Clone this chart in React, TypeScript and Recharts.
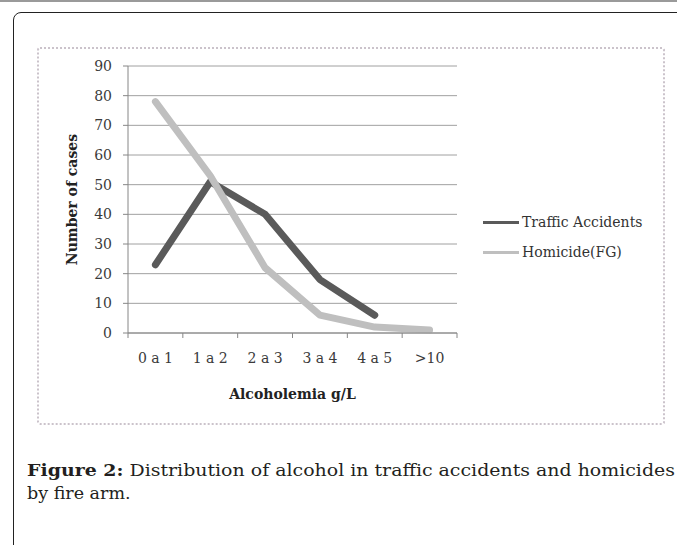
import { LineChart, Line, XAxis, YAxis, CartesianGrid, Legend } from 'recharts';

const categories = ['0 a 1', '1 a 2', '2 a 3', '3 a 4', '4 a 5', '>10'];
const trafficAccidents = [23, 51, 40, 18, 6, null];
const homicideFG = [78, 53, 22, 6, 2, 1];
const yTicks = [0, 10, 20, 30, 40, 50, 60, 70, 80, 90];
const seriesNames = ['Traffic Accidents', 'Homicide(FG)'];

const data = categories.map((c, i) => ({
  range: c,
  traffic: trafficAccidents[i],
  homicide: homicideFG[i],
}));

const SERIF = '"DejaVu Serif", serif';
const AXIS = '#868686';
const TICK_SIZE = 5;
const X_TICK_MARGIN = 15;

// Excel style: labels in the middle of each band, tick marks on the band edges
function CategoryTick(props: any) {
  const { x, y, payload, index, visibleTicksCount, width } = props;
  const half = width / visibleTicksCount / 2;
  const axisY = y - TICK_SIZE - X_TICK_MARGIN;
  return (
    <g>
      <line x1={x - half} x2={x - half} y1={axisY} y2={axisY + TICK_SIZE} stroke={AXIS} />
      {index === visibleTicksCount - 1 && (
        <line x1={x + half} x2={x + half} y1={axisY} y2={axisY + TICK_SIZE} stroke={AXIS} />
      )}
      <text x={x} y={y} dy="0.71em" textAnchor="middle" fontFamily={SERIF} fontSize={14} fill="#3a3a3a">
        {payload.value}
      </text>
    </g>
  );
}

function LegendBox(props: any) {
  const items = [...(props.payload || [])].sort(
    (a: any, b: any) => seriesNames.indexOf(a.value) - seriesNames.indexOf(b.value)
  );
  return (
    <div>
      {items.map((e: any) => (
        <div key={e.value} style={{ display: 'flex', alignItems: 'center', height: 30 }}>
          <span style={{ width: 36, height: 3, background: e.color, marginRight: 3 }} />
          <span style={{ fontFamily: SERIF, fontSize: 14, color: '#333' }}>{e.value}</span>
        </div>
      ))}
    </div>
  );
}

export default function App() {
  return (
    <div style={{ position: 'absolute', left: 0, top: 0, width: 677, height: 545, overflow: 'hidden', background: '#fff' }}>
      <div style={{ position: 'absolute', left: 0, top: 0, width: 677, height: 2, background: '#9a9a9a' }} />
      <div style={{ position: 'absolute', left: 13, top: 12, width: 720, height: 600, border: '1.5px solid #222', borderRadius: 8 }} />
      <div style={{ position: 'absolute', left: 37, top: 47, width: 624, height: 374, border: '2px dotted #cbc3cb', borderRadius: 3 }} />

      <div style={{ position: 'absolute', left: 0, top: 0 }}>
        <LineChart width={677} height={545} data={data} margin={{ top: 66, right: 220, bottom: 182, left: 68 }}>
          <CartesianGrid vertical={false} stroke="#a0a0a0" />
          <XAxis
            dataKey="range"
            scale="band"
            height={30}
            tickLine={false}
            tickSize={TICK_SIZE}
            tickMargin={X_TICK_MARGIN}
            axisLine={{ stroke: AXIS }}
            tick={<CategoryTick />}
            interval={0}
            label={{ value: 'Alcoholemia g/L', position: 'bottom', offset: 26, fontFamily: SERIF, fontSize: 14, fontWeight: 'bold', fill: '#222' }}
          />
          <YAxis
            width={60}
            domain={[0, 90]}
            ticks={yTicks}
            tickSize={TICK_SIZE}
            tickMargin={11}
            axisLine={{ stroke: AXIS }}
            tickLine={{ stroke: AXIS }}
            tick={{ fontFamily: SERIF, fontSize: 14, fill: '#3a3a3a' }}
            label={{ value: 'Number of cases', angle: -90, position: 'insideLeft', offset: 4, fontFamily: SERIF, fontSize: 14, fontWeight: 'bold', fill: '#222', style: { textAnchor: 'middle' } }}
          />
          <Legend
            layout="vertical"
            align="center"
            verticalAlign="middle"
            wrapperStyle={{ left: 483, top: 207, width: 190 }}
            content={<LegendBox />}
          />
          <Line name="Traffic Accidents" dataKey="traffic" stroke="#5a5a5a" strokeWidth={7} strokeLinecap="round" strokeLinejoin="round" dot={false} isAnimationActive={false} />
          <Line name="Homicide(FG)" dataKey="homicide" stroke="#bfbfbf" strokeWidth={7} strokeLinecap="round" strokeLinejoin="round" dot={false} isAnimationActive={false} />
        </LineChart>
      </div>

      <svg style={{ position: 'absolute', left: 0, top: 0 }} width={677} height={545}>
        <text x={27} y={476} fontFamily={SERIF} fontSize={17.5} fill="#231f20" textLength={648} lengthAdjust="spacingAndGlyphs">
          <tspan fontWeight="bold">Figure 2:</tspan> Distribution of alcohol in traffic accidents and homicides
        </text>
        <text x={27} y={499} fontFamily={SERIF} fontSize={17.5} fill="#231f20">
          by fire arm.
        </text>
      </svg>
    </div>
  );
}
